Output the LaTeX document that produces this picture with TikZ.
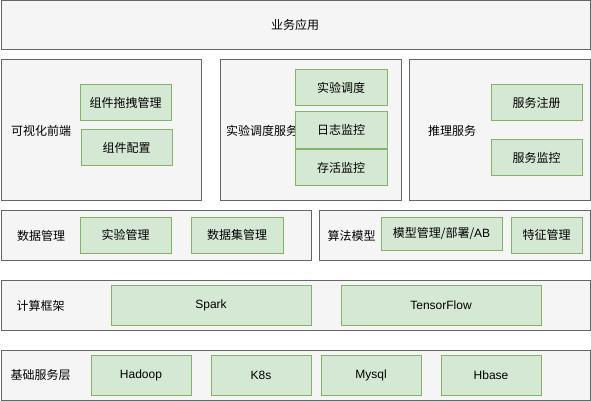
\documentclass[tikz,border=0pt]{standalone}
\usepackage{fontspec}
\setmainfont{Liberation Sans}
\newfontfamily\cjk{Noto Sans CJK SC}
\definecolor{layerfill}{HTML}{F5F5F5}
\definecolor{layerline}{HTML}{666666}
\definecolor{itemfill}{HTML}{D5E8D4}
\definecolor{itemline}{HTML}{82B366}
\begin{document}
\begin{tikzpicture}[x=1pt, y=-1pt,
    every node/.style={font=\fontsize{12}{14}\selectfont\cjk},
    latin/.style={font=\fontsize{12}{14}\selectfont\rmfamily},
    layer/.style 2 args={rectangle, draw=layerline, fill=layerfill, line width=1pt, inner sep=0pt, minimum width=#1, minimum height=#2},
    item/.style 2 args={rectangle, draw=itemline, fill=itemfill, line width=1pt, inner sep=0pt, minimum width=#1, minimum height=#2}]

    \useasboundingbox (0,0) rectangle (591,401);

    % layers
    \node[layer={589}{49}] (app) at (295.5,25.5) {};

    \node[layer={200}{140}] (vis) at (101,130) {};

    \node[layer={181}{140}] (sched) at (310.5,130) {};

    \node[layer={181}{140}] (infer) at (499.5,130) {};

    \node[layer={310}{50}] (data) at (156,235) {};

    \node[layer={271}{50}] (algo) at (454.5,235) {};

    \node[layer={589}{50}] (comp) at (295.5,305) {};

    \node[layer={589}{50}] (base) at (295.5,375) {};

    % layer titles
    \node (appname) at (295,25) {业务应用};

    \node (visname) at (41,131) {可视化前端};

    \node (schedname) at (262,131) {实验调度服务};

    \node (infername) at (452,131) {推理服务};

    \node (dataname) at (41,236) {数据管理};

    \node (algoname) at (351.5,236) {算法模型};

    \node (compname) at (40.5,306) {计算框架};

    \node (basename) at (40.5,375) {基础服务层};

    % parts
    \node[item={91}{36}] (drag) at (125.5,102.5) {组件拖拽管理};

    \node[item={91}{36}] (conf) at (126.5,147.5) {组件配置};

    \node[item={92}{36}] (sched1) at (341,87.5) {实验调度};

    \node[item={92}{36}] (sched2) at (341,130) {日志监控};

    \node[item={92}{36}] (sched3) at (341,167.5) {存活监控};

    \node[item={91}{36}] (reg) at (536.5,102.5) {服务注册};

    \node[item={91}{36}] (mon) at (536.5,157.5) {服务监控};

    \node[item={91}{36}] (exp) at (125.5,235) {实验管理};

    \node[item={92}{36}] (dset) at (237,235) {数据集管理};

    \node[item={121}{33}] (model) at (441.5,233.5) {模型管理/部署/{\rmfamily AB}};

    \node[item={71}{36}] (feat) at (546.5,235) {特征管理};

    \node[item={200}{40}, latin] (spark) at (211,305) {Spark};

    \node[item={200}{40}, latin] (tf) at (441,305) {TensorFlow};

    \node[item={100}{40}, latin] (hadoop) at (141,375) {Hadoop};

    \node[item={100}{40}, latin] (k8s) at (261,375) {K8s};

    \node[item={100}{40}, latin] (mysql) at (371,375) {Mysql};

    \node[item={100}{40}, latin] (hbase) at (491,375) {Hbase};

\end{tikzpicture}
\end{document}
